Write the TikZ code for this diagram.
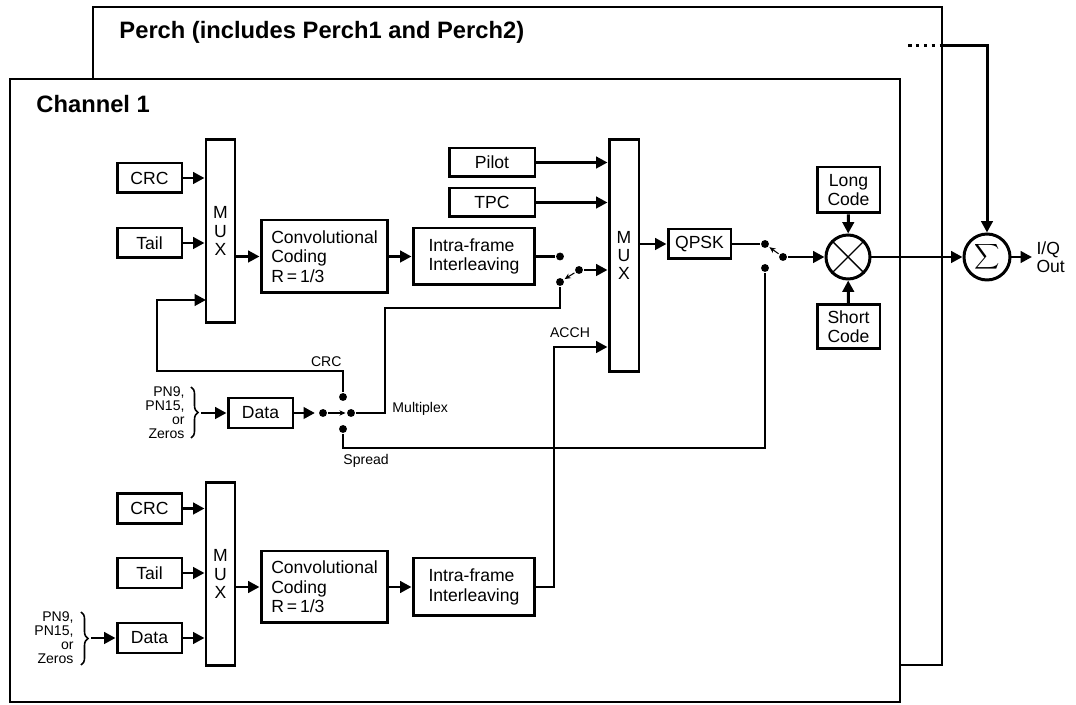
\documentclass[tikz,border=0pt]{standalone}
\usepackage{fontspec}
\setmainfont{Liberation Sans}
\usetikzlibrary{arrows.meta,decorations.pathreplacing}

\begin{document}
\begin{tikzpicture}[x=0.02cm, y=-0.02cm, line width=1.7pt,
    blk/.style = {draw, fill=white, inner sep=0pt, align=center, font=\fontsize{10}{11}\selectfont},
    small/.style = {blk, minimum width=1.3cm, minimum height=0.6cm},
    mux/.style = {blk, minimum width=0.58cm, minimum height=3.68cm, font=\fontsize{10}{10.5}\selectfont},
    dot/.style = {circle, fill, inner sep=0pt, minimum size=4.5pt},
    arr/.style = {-{Triangle[length=6.5pt,width=6.5pt]}},
    arm/.style = {line width=0.6pt, -{Stealth[length=3.5pt,width=3pt]}},
    lbl/.style = {font=\fontsize{8}{8}\selectfont, inner sep=0pt},
    ttl/.style = {anchor=west, inner sep=0pt, font=\fontsize{13.5}{13.5}\selectfont\bfseries}]
\useasboundingbox (0,0) rectangle (1076,705);

% frames
\draw[line width=1.3pt, fill=white] (93,7) rectangle (942,665);
\node[ttl] (perch) at (118,32) {Perch (includes Perch1 and Perch2)};
\draw[line width=1.3pt, fill=white] (10,79) rectangle (900,702);
\node[ttl] (chan) at (35,104) {Channel 1};

% upper branch
    \node[small] (crcA) at (149.5,178) {CRC};
    \node[small] (tailA) at (149.5,243) {Tail};
    \node[mux] (muxA) at (220.5,231) {M\\U\\X};
    \node[blk, minimum width=2.54cm, minimum height=1.46cm, align=left] (convA) at (324.5,256.5) {Convolutional\\Coding\\R\,=\,1/3};
    \node[blk, minimum width=2.44cm, minimum height=1.14cm, align=left] (intlA) at (474,256.5) {Intra-frame\\Interleaving};
    \node[blk, minimum width=1.72cm, minimum height=0.58cm] (pilot) at (492,162.5) {Pilot};
    \node[blk, minimum width=1.72cm, minimum height=0.58cm] (tpc) at (492,202.5) {TPC};
    \node[mux, minimum width=0.6cm, minimum height=4.66cm] (muxB) at (624,255.5) {M\\U\\X};
    \node[blk, minimum width=1.26cm, minimum height=0.6cm] (qpsk) at (699.5,244) {QPSK};
    \node[blk, minimum width=1.26cm, minimum height=0.92cm] (longc) at (848.5,190) {Long\\Code};
    \node[blk, minimum width=1.26cm, minimum height=0.88cm] (shortc) at (848.5,326.5) {Short\\Code};
    \node[circle, draw, fill=white, inner sep=0pt, minimum size=0.88cm] (mult) at (848,257) {};
    \node[circle, draw, fill=white, inner sep=0pt, minimum size=0.92cm] (sum) at (987,257) {$\displaystyle\sum$};
    \node[anchor=west, align=left, inner sep=0pt, font=\fontsize{10}{10.5}\selectfont] (iq) at (1035,257) {I/Q\\Out};

% data source and switches
    \node[small] (dataA) at (260.5,413) {Data};
    \node[lbl, anchor=east, align=right] (pnA) at (186,413) {PN9,\\PN15,\\or\\Zeros};
    \node[dot] (swAa) at (323,413) {};
    \node[dot] (swAb) at (343,397) {};
    \node[dot] (swAc) at (351,413) {};
    \node[dot] (swAd) at (343,429) {};
    \node[dot] (swBa) at (560,256.5) {};
    \node[dot] (swBb) at (560,282) {};
    \node[dot] (swBc) at (579,270) {};
    \node[dot] (swCa) at (765,244) {};
    \node[dot] (swCb) at (765,268) {};
    \node[dot] (swCc) at (783,257) {};
    \coordinate (pnAin) at (201,413);
    \coordinate (crcbend) at (157,371);
    \coordinate (fbin) at (206,300);
    \coordinate (mplx) at (385,308);
    \coordinate (sprd) at (765,448);
    \coordinate (perchdots) at (908,46);
    \coordinate (perchout) at (942,46);
    \coordinate (iqout) at (1032,257);

% lower branch
    \node[small] (crcB) at (149.5,508.5) {CRC};
    \node[small] (tailB) at (149.5,573) {Tail};
    \node[small] (dataB) at (149.5,638) {Data};
    \node[lbl, anchor=east, align=right] (pnB) at (75,638) {PN9,\\PN15,\\or\\Zeros};
    \node[mux] (muxC) at (220.5,574) {M\\U\\X};
    \node[blk, minimum width=2.54cm, minimum height=1.44cm, align=left] (convB) at (324.5,587) {Convolutional\\Coding\\R\,=\,1/3};
    \node[blk, minimum width=2.44cm, minimum height=1.16cm, align=left] (intlB) at (474,587) {Intra-frame\\Interleaving};
    \coordinate (pnBin) at (91,638);
    \coordinate (acchbend) at (554,347);

\draw[line width=0.8pt] (mult.north west) -- (mult.south east) (mult.north east) -- (mult.south west);
\draw[line width=0.9pt, decorate, decoration={brace, amplitude=4pt}] (191,387) -- (191,438);
\draw[line width=0.9pt, decorate, decoration={brace, amplitude=4pt}] (81,612) -- (81,665);

\draw[arr] (crcA) -- (crcA -| muxA.west);
\draw[arr] (tailA) -- (tailA -| muxA.west);
\draw[arr] (convA -| muxA.east) -- (convA);
\draw[arr] (convA) -- (intlA);
\draw (intlA) -- (swBa);
\draw[arm] (swBc) -- (swBb);
\draw[arr] (swBc) -- (swBc -| muxB.west);
\draw[arr] (pilot) -- (pilot -| muxB.west);
\draw[arr] (tpc) -- (tpc -| muxB.west);
\draw[arr] (qpsk -| muxB.east) -- (qpsk);
\draw (qpsk) -- (swCa);
\draw[arm] (swCc) -- (swCa);
\draw[arr] (swCc) -- (mult);
\draw[arr] (longc) -- (mult);
\draw[arr] (shortc) -- (mult);
\draw[arr] (mult) -- (sum);
\draw[arr] (sum) -- (iqout);
\draw[line cap=butt, dash pattern=on 2pt off 2.5pt] (perchdots) -- (perchout);
\draw[arr] (perchout) -| (sum);

\draw[arr] (pnAin) -- (dataA);
\draw[arr, shorten >=1.5pt] (dataA) -- (swAa);
\draw[arm] (swAa) -- (swAc);
\draw[arr] (swAb) |- (crcbend) |- (fbin);
\node[lbl, anchor=east] (crcl) at (343,362) {CRC};
\draw (swAc) -| (mplx) -| (swBb);
\node[lbl, anchor=west] (mplxl) at (391,409) {Multiplex};
\draw (swAd) |- (sprd) -- (swCb);
\node[lbl, anchor=west] (sprdl) at (342,461) {Spread};

\draw[arr] (crcB) -- (crcB -| muxC.west);
\draw[arr] (tailB) -- (tailB -| muxC.west);
\draw[arr] (dataB) -- (dataB -| muxC.west);
\draw[arr] (pnBin) -- (dataB);
\draw[arr] (convB -| muxC.east) -- (convB);
\draw[arr] (convB) -- (intlB);
\draw[arr] (intlB) -| (acchbend) -- (acchbend -| muxB.west);
\node[lbl] (acchl) at (570,333) {ACCH};

\end{tikzpicture}
\end{document}
